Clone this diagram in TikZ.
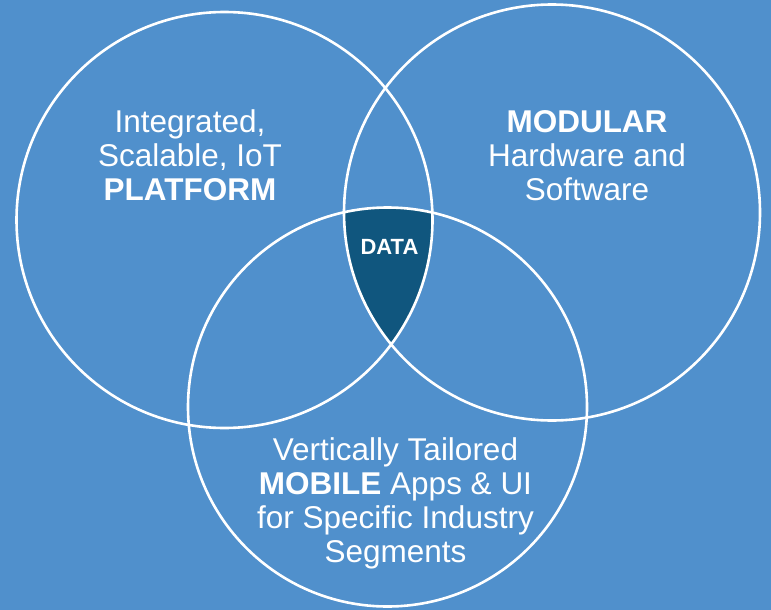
\documentclass[tikz,border=0pt]{standalone}
\usepackage{fontspec}
\setmainfont{Liberation Sans}
\usetikzlibrary{positioning}

\definecolor{bgblue}{RGB}{80,144,204}
\definecolor{datablue}{RGB}{16,86,126}

\tikzset{
    venn/.style={circle, draw=white, line width=2.6pt, inner sep=0pt},
    blocktext/.style={text=white, align=center, font=\fontsize{31.5}{34}\selectfont}
}

\begin{document}
\begin{tikzpicture}[x=1pt, y=-1pt]
        \fill[bgblue] (0, 0) rectangle (771, 610);
        \useasboundingbox (0, 0) rectangle (771, 610);

        \coordinate (c1) at (224.5, 220);
        \coordinate (c2) at (552, 212.5);
        \coordinate (c3) at (387.5, 407);

        % common part of all three
        \begin{scope}
            \clip (c1) circle[radius=208pt];
            \clip (c2) circle[radius=208pt];
            \fill[datablue] (c3) circle[radius=199.5pt];
        \end{scope}

        \node[venn, minimum size=416pt] (platform) at (c1) {};
        \node[venn, minimum size=416pt] (modular) at (c2) {};
        \node[venn, minimum size=399pt] (mobile) at (c3) {};

        \node[blocktext] (ptext) at (190, 155.7) {Integrated,\\Scalable, IoT\\\textbf{PLATFORM}};
        \node[blocktext] (mtext) at (587, 155.7) {\textbf{MODULAR}\\Hardware and\\Software};
        \node[blocktext] (btext) at (395.5, 503) {Vertically Tailored\\\textbf{MOBILE} Apps \& UI\\for Specific Industry\\Segments};
        \node[text=white, font=\fontsize{22}{24}\selectfont\bfseries] (data) at (389.5, 247) {DATA};
    \end{tikzpicture}
\end{document}
